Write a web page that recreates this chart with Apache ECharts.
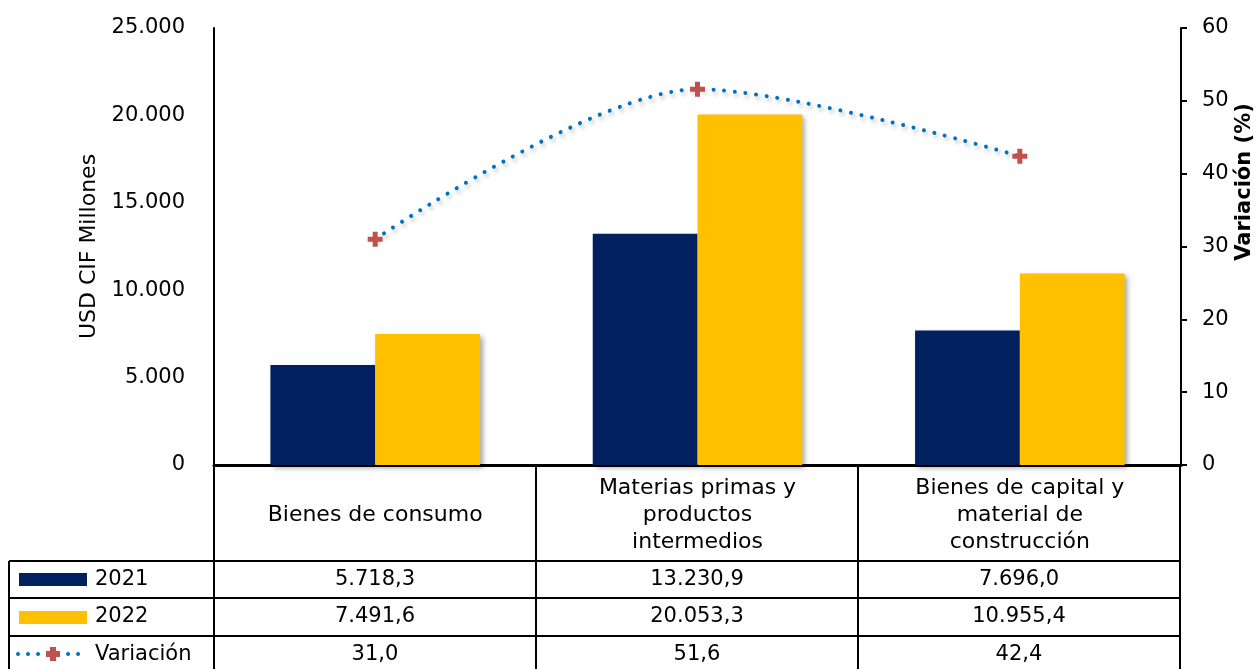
<!DOCTYPE html>
<html>
<head>
<meta charset="utf-8">
<script src="https://cdn.jsdelivr.net/npm/echarts@6/dist/echarts.min.js"></script>
<style>
  html, body { margin: 0; padding: 0; background: #fff; }
  #chart { width: 1259px; height: 669px; }
</style>
</head>
<body>
<div id="chart"></div>
<script>
// datos del gráfico
const categories = ['Bienes de consumo', 'Materias primas y\nproductos\nintermedios', 'Bienes de capital y\nmaterial de\nconstrucción'];
const seriesNames = ['2021', '2022', 'Variación'];
const values2021 = [5718.3, 13230.9, 7696.0];
const values2022 = [7491.6, 20053.3, 10955.4];
const variacion = [31.0, 51.6, 42.4];

const FONT = 'DejaVu Sans';
const NAVY = '#00205F', GOLD = '#FFC000', BLUE = '#0070C0', RED = '#C0504D';
const plusPath = 'path://M4,0H8V4H12V8H8V12H4V8H0V4H4Z';

function miles(v) {
  return String(v).replace(/\B(?=(\d{3})+(?!\d))/g, '.');
}
function fmt(v) {
  const parts = v.toFixed(1).split('.');
  return miles(parts[0]) + ',' + parts[1];
}

const chart = echarts.init(document.getElementById('chart'));

// tabla de datos bajo el eje
const colEdges = [214, 536, 858, 1180];
const rowLines = [561, 598, 636];
const tableLeft = 9, tableBottom = 669;
const rows = [values2021, values2022, variacion];
const rowCenters = [580, 617, 655];

const graphics = [];
colEdges.forEach(x => {
  graphics.push({ type: 'line', shape: { x1: x, y1: 465, x2: x, y2: tableBottom }, style: { stroke: '#000', lineWidth: 2 } });
});
graphics.push({ type: 'line', shape: { x1: tableLeft, y1: rowLines[0], x2: tableLeft, y2: tableBottom }, style: { stroke: '#000', lineWidth: 2 } });
rowLines.forEach(y => {
  graphics.push({ type: 'line', shape: { x1: tableLeft, y1: y, x2: colEdges[3], y2: y }, style: { stroke: '#000', lineWidth: 2 } });
});
rows.forEach((arr, r) => {
  const cy = rowCenters[r];
  arr.forEach((v, c) => {
    graphics.push({
      type: 'text',
      style: { x: (colEdges[c] + colEdges[c + 1]) / 2, y: cy, text: fmt(v), fill: '#000', font: '21px "' + FONT + '"', textAlign: 'center', textVerticalAlign: 'middle' }
    });
  });
  graphics.push({
    type: 'text',
    style: { x: 95, y: cy, text: seriesNames[r], fill: '#000', font: '21px "' + FONT + '"', textAlign: 'left', textVerticalAlign: 'middle' }
  });
});
// claves de leyenda
graphics.push({ type: 'rect', shape: { x: 19, y: 573, width: 68, height: 13 }, style: { fill: NAVY } });
graphics.push({ type: 'rect', shape: { x: 19, y: 611, width: 68, height: 13 }, style: { fill: GOLD } });
graphics.push({ type: 'line', shape: { x1: 18, y1: 654, x2: 88, y2: 654 }, style: { stroke: BLUE, lineWidth: 4, lineDash: [0.01, 10], lineCap: 'round' } });
graphics.push({ type: 'polygon', shape: { points: [[50, 647], [56, 647], [56, 651], [60, 651], [60, 657], [56, 657], [56, 661], [50, 661], [50, 657], [46, 657], [46, 651], [50, 651]] }, style: { fill: RED } });
// título del eje derecho
graphics.push({
  type: 'text', x: 1245, y: 182, rotation: Math.PI / 2,
  style: { x: 0, y: 0, text: 'Variación (%)', fill: '#000', font: 'bold 21px "' + FONT + '"', textAlign: 'center', textVerticalAlign: 'middle' }
});

const option = {
  backgroundColor: '#fff',
  animation: false,
  textStyle: { fontFamily: FONT },
  grid: { left: 214, right: 78, top: 28, bottom: 204, outerBoundsMode: 'none', containLabel: false },
  xAxis: {
    type: 'category',
    data: categories,
    axisLine: { lineStyle: { color: '#000', width: 3 } },
    axisTick: { show: false },
    axisLabel: { interval: 0, margin: 50, verticalAlign: 'middle', lineHeight: 27, fontSize: 22, color: '#000', fontFamily: FONT }
  },
  yAxis: [
    {
      type: 'value', min: 0, max: 25000, interval: 5000,
      name: 'USD CIF Millones', nameLocation: 'middle', nameGap: 113,
      nameTextStyle: { fontSize: 22, color: '#000', fontFamily: FONT },
      axisLine: { show: true, lineStyle: { color: '#000', width: 2 } },
      axisTick: { show: false },
      splitLine: { show: false },
      axisLabel: { margin: 29, fontSize: 21, color: '#000', fontFamily: FONT, formatter: v => miles(v) }
    },
    {
      type: 'value', min: 0, max: 60, interval: 10, position: 'right',
      axisLine: { show: true, lineStyle: { color: '#000', width: 2 } },
      axisTick: { show: true, length: 6, lineStyle: { color: '#000', width: 2 } },
      splitLine: { show: false },
      axisLabel: { margin: 21, fontSize: 21, color: '#000', fontFamily: FONT }
    }
  ],
  series: [
    {
      name: seriesNames[0], type: 'bar', data: values2021, barGap: '0%', barCategoryGap: '35%',
      itemStyle: { color: NAVY, shadowColor: 'rgba(0,0,0,0.35)', shadowBlur: 5, shadowOffsetX: 3, shadowOffsetY: 3 }
    },
    {
      name: seriesNames[1], type: 'bar', data: values2022,
      itemStyle: { color: GOLD, shadowColor: 'rgba(0,0,0,0.35)', shadowBlur: 5, shadowOffsetX: 3, shadowOffsetY: 3 }
    },
    {
      name: seriesNames[2], type: 'line', yAxisIndex: 1, data: variacion, smooth: 0.3,
      symbol: plusPath, symbolSize: 15,
      itemStyle: { color: RED },
      lineStyle: { color: BLUE, width: 4, type: [0.01, 10.7], cap: 'round', shadowColor: 'rgba(0,0,0,0.3)', shadowBlur: 4, shadowOffsetX: 2, shadowOffsetY: 3 },
      z: 5
    }
  ],
  graphic: graphics
};
chart.setOption(option);
</script>
</body>
</html>
